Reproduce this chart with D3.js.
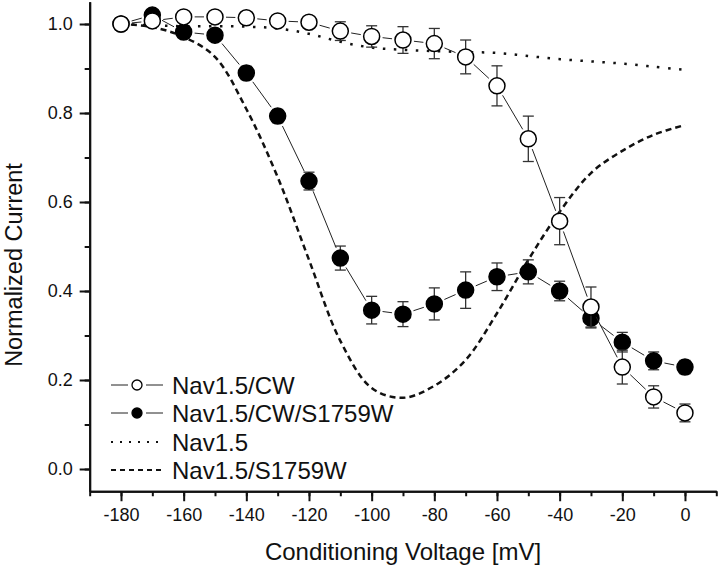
<!DOCTYPE html>
<html>
<head>
<meta charset="utf-8">
<script src="https://cdn.jsdelivr.net/npm/d3@7"></script>
<style>
  body { margin: 0; background: #fff; }
  svg { display: block; font-family: "Liberation Sans", Arial, sans-serif; }
</style>
</head>
<body>
<svg id="chart"></svg>
<script>
// data
var voltages = [-180,-170,-160,-150,-140,-130,-120,-110,-100,-90,-80,-70,-60,-50,-40,-30,-20,-10,0];
var cwMean = [1.0,1.007,1.016,1.016,1.014,1.007,1.004,0.984,0.972,0.964,0.956,0.926,0.861,0.742,0.557,0.364,0.229,0.162,0.126];
var cwErr  = [0,0.01,0.012,0.01,0.012,0.01,0.012,0.021,0.024,0.03,0.034,0.038,0.045,0.051,0.053,0.045,0.038,0.025,0.02];
var swMean = [1.0,1.02,0.982,0.975,0.89,0.793,0.647,0.474,0.357,0.348,0.371,0.402,0.432,0.443,0.40,0.339,0.285,0.243,0.229];
var swErr  = [0,0.01,0.01,0.01,0.015,0.015,0.02,0.027,0.031,0.028,0.036,0.041,0.031,0.027,0.022,0.022,0.022,0.02,0.015];

var fitVoltages = [-180,-170,-160,-150,-140,-130,-120,-110,-100,-90,-80,-70,-60,-50,-40,-30,-20,-10,0];
var nav15Fit  = [1.0,0.997,0.995,0.995,0.994,0.99,0.978,0.96,0.947,0.942,0.939,0.937,0.935,0.928,0.921,0.916,0.911,0.904,0.897];
var s1759wFit = [1.0,0.993,0.971,0.926,0.809,0.656,0.47,0.288,0.182,0.16,0.187,0.245,0.35,0.47,0.578,0.665,0.715,0.751,0.773];

var xTicks = [-180,-160,-140,-120,-100,-80,-60,-40,-20,0];
var yTicks = [0.0,0.2,0.4,0.6,0.8,1.0];
var legendNames = ["Nav1.5/CW","Nav1.5/CW/S1759W","Nav1.5","Nav1.5/S1759W"];

var W = 720, H = 568;
var svg = d3.select("#chart").attr("width",W).attr("height",H);

var xScale = d3.scaleLinear().domain([-190,10]).range([89.67,716.3]);
var yScale = d3.scaleLinear().domain([-0.05,1.05]).range([491.25,1.75]);

var ink = "#111";

// axes (minor ticks first, then labelled majors)
var xMinor = svg.append("g").attr("transform","translate(0,"+yScale(-0.05)+")")
  .call(d3.axisBottom(xScale).tickValues(d3.range(-190,11,10)).tickSize(5).tickSizeOuter(0).tickFormat(""));
var yMinor = svg.append("g").attr("transform","translate("+xScale(-190)+",0)")
  .call(d3.axisLeft(yScale).tickValues(d3.range(-0.1,1.06,0.1).filter(function(v){return v > -0.05;})).tickSize(5).tickSizeOuter(0).tickFormat(""));

var xAxis = svg.append("g").attr("transform","translate(0,"+yScale(-0.05)+")")
  .call(d3.axisBottom(xScale).tickValues(xTicks).tickSize(10).tickSizeOuter(0).tickPadding(7)
    .tickFormat(function(d){return String(d);}));
var yAxis = svg.append("g").attr("transform","translate("+xScale(-190)+",0)")
  .call(d3.axisLeft(yScale).tickValues(yTicks).tickSize(10).tickSizeOuter(0).tickPadding(7).tickFormat(d3.format(".1f")));

[xMinor,yMinor,xAxis,yAxis].forEach(function(g){
  g.selectAll("path").attr("stroke",ink).attr("stroke-width",2);
  g.selectAll("line").attr("stroke",ink).attr("stroke-width",2);
  g.selectAll("text").attr("fill",ink).style("font-size","18px").style("font-family","'Liberation Sans', Arial, sans-serif");
});

svg.append("text")
  .attr("x",(xScale(-190)+xScale(10))/2).attr("y",560)
  .attr("text-anchor","middle").attr("fill",ink)
  .style("font-size","24px")
  .text("Conditioning Voltage [mV]");

svg.append("text")
  .attr("transform","translate(22,265) rotate(-90)")
  .attr("text-anchor","middle").attr("fill",ink)
  .style("font-size","23.5px")
  .text("Normalized Current");

// fitted curves
var curveLine = d3.line()
  .x(function(d){return xScale(d[0]);})
  .y(function(d){return yScale(d[1]);})
  .curve(d3.curveCatmullRom);

svg.append("path")
  .datum(d3.zip(fitVoltages,nav15Fit))
  .attr("d",curveLine).attr("fill","none")
  .attr("stroke",ink).attr("stroke-width",2.5)
  .attr("stroke-dasharray","2.5 8.5");

svg.append("path")
  .datum(d3.zip(fitVoltages,s1759wFit))
  .attr("d",curveLine).attr("fill","none")
  .attr("stroke",ink).attr("stroke-width",2.5)
  .attr("stroke-dasharray","6 4");

var r = 8;

var drawSeries = function(means, errs, fill)
{
  var pts = voltages.map(function(v,i){
    return {x:xScale(v), y:yScale(means[i]), lo:yScale(means[i]-errs[i]), hi:yScale(means[i]+errs[i])};
  });
  var g = svg.append("g");

  // connecting segments, stopping short of the markers
  var segs = d3.pairs(pts);
  g.selectAll("line.seg").data(segs).enter().append("line")
    .attr("stroke","#222").attr("stroke-width",1)
    .each(function(p){
      var dx = p[1].x - p[0].x, dy = p[1].y - p[0].y;
      var len = Math.sqrt(dx*dx+dy*dy), gap = r + 3;
      if (len <= 2*gap) { d3.select(this).remove(); return; }
      var ux = dx/len, uy = dy/len;
      d3.select(this)
        .attr("x1",p[0].x+ux*gap).attr("y1",p[0].y+uy*gap)
        .attr("x2",p[1].x-ux*gap).attr("y2",p[1].y-uy*gap);
    });

  // error bars
  var eb = g.selectAll("g.err").data(pts.filter(function(p,i){return errs[i] > 0;})).enter().append("g")
    .attr("stroke","#333").attr("stroke-width",1.3);
  eb.append("line").attr("x1",function(d){return d.x;}).attr("x2",function(d){return d.x;})
    .attr("y1",function(d){return d.lo;}).attr("y2",function(d){return d.hi;});
  eb.append("line").attr("x1",function(d){return d.x-5.5;}).attr("x2",function(d){return d.x+5.5;})
    .attr("y1",function(d){return d.lo;}).attr("y2",function(d){return d.lo;});
  eb.append("line").attr("x1",function(d){return d.x-5.5;}).attr("x2",function(d){return d.x+5.5;})
    .attr("y1",function(d){return d.hi;}).attr("y2",function(d){return d.hi;});

  g.selectAll("circle").data(pts).enter().append("circle")
    .attr("cx",function(d){return d.x;}).attr("cy",function(d){return d.y;})
    .attr("r",r).attr("fill",fill).attr("stroke","#000").attr("stroke-width",1.5);
};

drawSeries(swMean, swErr, "#000");
drawSeries(cwMean, cwErr, "#fff");

// legend
var legendY = [385,413,442,470];
var legend = svg.append("g").classed("legend",true);
var rows = legend.selectAll("g").data(legendNames).enter().append("g")
  .attr("transform",function(d,i){return "translate(0,"+legendY[i]+")";});

rows.each(function(d,i){
  var row = d3.select(this);
  if (i < 2) {
    row.append("line").attr("x1",111).attr("x2",128).attr("y1",0).attr("y2",0).attr("stroke","#222").attr("stroke-width",1);
    row.append("line").attr("x1",146).attr("x2",163).attr("y1",0).attr("y2",0).attr("stroke","#222").attr("stroke-width",1);
    row.append("circle").attr("cx",137).attr("cy",0).attr("r",5)
      .attr("fill",i === 0 ? "#fff" : "#000").attr("stroke","#000").attr("stroke-width",1.3);
  } else {
    row.append("line").attr("x1",111).attr("x2",165).attr("y1",0).attr("y2",0)
      .attr("stroke",ink).attr("stroke-width",i === 2 ? 1.8 : 2)
      .attr("stroke-dasharray",i === 2 ? "2 7" : "5 4");
  }
  row.append("text").attr("x",172).attr("y",0).attr("dy","0.36em")
    .attr("fill",ink).style("font-size","24px").text(d);
});
</script>
</body>
</html>
